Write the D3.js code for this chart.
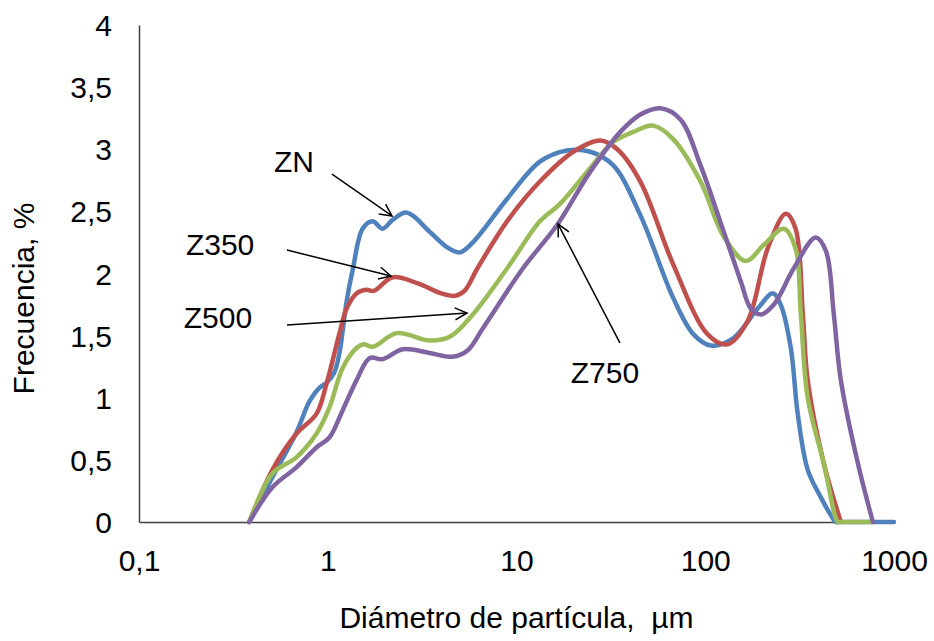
<!DOCTYPE html>
<html>
<head>
  <meta charset="utf-8">
  <title>Distribución de tamaño de partícula</title>
  <style>
    body { margin: 0; padding: 0; background: #fff; }
    svg { display: block; }
    text { font-family: "Liberation Sans", Arial, sans-serif; fill: #000; }
  </style>
</head>
<body>
  <div id="chart"></div>

  <script src="https://d3js.org/d3.v7.min.js"></script>
  <script>
    // values: [diameter µm, frecuencia %]
    const zn = [[0.384,0],[0.509,0.36],[0.682,0.72],[0.80,0.97],[0.903,1.08],[0.984,1.12],[1.08,1.2],
      [1.15,1.35],[1.26,1.78],[1.36,2.04],[1.53,2.36],[1.73,2.42],[1.95,2.36],[2.2,2.43],[2.62,2.49],
      [3.5,2.33],[4.3,2.21],[5.01,2.17],[5.87,2.25],[8.91,2.6],[13.3,2.9],[18.5,2.99],[24.6,2.98],
      [32.6,2.87],[45.3,2.47],[67.8,1.8],[86.7,1.51],[107,1.42],[141,1.48],[190,1.72],[228,1.84],
      [251,1.75],[284,1.4],[309,0.87],[349,0.42],[409,0.2],[465,0.05],[492,0],[510,0],[1000,0]];
    const z350 = [[0.384,0],[0.509,0.42],[0.682,0.71],[0.871,0.87],[0.984,1.11],[1.15,1.51],[1.26,1.72],
      [1.42,1.84],[1.6,1.87],[1.75,1.86],[2.21,1.97],[3.0,1.92],[4.0,1.84],[4.7,1.82],[5.3,1.86],
      [6.2,2.04],[8.91,2.42],[13.3,2.74],[20.0,2.98],[27.8,3.07],[34.2,3.0],[45.3,2.74],[67.8,2.07],
      [103,1.51],[131,1.43],[168,1.62],[214,2.2],[267,2.48],[301,2.36],[329,1.67],[349,1.14],
      [425,0.47],[523,0]];
    const z500 = [[0.384,0],[0.509,0.39],[0.682,0.52],[0.871,0.71],[1.02,0.92],[1.2,1.24],[1.42,1.4],
      [1.55,1.43],[1.73,1.41],[2.32,1.52],[3.47,1.46],[4.43,1.49],[5.87,1.67],[8.91,2.04],[13.3,2.42],
      [17.0,2.56],[23.7,2.82],[32.6,3.06],[41.6,3.14],[53.1,3.19],[67.8,3.08],[94.4,2.74],[125,2.3],
      [164,2.1],[204,2.23],[261,2.36],[301,2.2],[321,1.67],[349,1.0],[425,0.47],[504,0],[520,0],[755,0]];
    const z750 = [[0.384,0],[0.509,0.28],[0.682,0.44],[0.871,0.6],[1.02,0.68],[1.2,0.9],[1.42,1.14],
      [1.67,1.32],[1.95,1.31],[2.5,1.39],[3.47,1.36],[4.6,1.33],[5.5,1.38],[6.64,1.56],[10.8,2.04],
      [16.4,2.39],[24.6,2.82],[35.5,3.14],[45.3,3.28],[57.8,3.33],[73.9,3.24],[94.4,2.87],[125,2.34],
      [154,1.94],[174,1.72],[197,1.67],[231,1.75],[294,2.04],[385,2.29],[436,2.18],[480,1.67],
      [523,1.14],[644,0.47],[773,0]];

    const seriesNames = ['ZN', 'Z350', 'Z500', 'Z750'];
    const seriesData = [zn, z350, z500, z750];
    const colors = ['#4F81BD', '#C0504D', '#9BBB59', '#8064A2'];

    const xTicks = [0.1, 1, 10, 100, 1000];
    const yTicks = [0, 0.5, 1, 1.5, 2, 2.5, 3, 3.5, 4];

    // annotations: label centre/baseline and arrow start -> end, in data units
    const labels = [
      { text: 'ZN',   x: 0.662, y: 2.817, from: [1.053, 2.80],  to: [2.19, 2.463] },
      { text: 'Z350', x: 0.269, y: 2.149, from: [0.608, 2.189], to: [2.163, 1.98] },
      { text: 'Z500', x: 0.262, y: 1.561, from: [0.608, 1.586], to: [5.47, 1.682] },
      { text: 'Z750', x: 29.4,  y: 1.119, from: [35.3, 1.441],  to: [16.6, 2.398] }
    ];

    const width = 934, height = 641;
    const margin = { top: 25, right: 40, bottom: 119, left: 139 };

    const svg = d3.select('#chart').append('svg')
      .attr('width', width).attr('height', height);

    const x = d3.scaleLog().domain([0.1, 1000]).range([margin.left, width - margin.right]);
    const y = d3.scaleLinear().domain([0, 4]).range([height - margin.bottom, margin.top]);

    const fmt = d => String(d).replace('.', ',');

    // axes (no tick marks, labels only)
    svg.append('g')
      .attr('transform', `translate(0,${y(0)})`)
      .call(d3.axisBottom(x).tickValues(xTicks).tickFormat(fmt).tickSize(0).tickPadding(0))
      .call(g => g.select('.domain').attr('stroke', '#404040').attr('stroke-width', 1.5))
      .call(g => g.selectAll('text').attr('font-size', 30).attr('dy', null).attr('y', 49));

    svg.append('g')
      .attr('transform', `translate(${x(0.1)},0)`)
      .call(d3.axisLeft(y).tickValues(yTicks).tickFormat(fmt).tickSize(0).tickPadding(0))
      .call(g => g.select('.domain').attr('stroke', '#404040').attr('stroke-width', 1.5))
      .call(g => g.selectAll('text').attr('font-size', 30).attr('dy', null)
        .attr('x', -27).attr('dominant-baseline', 'central'));

    svg.selectAll('.domain').attr('fill', 'none');

    // series
    const line = d3.line()
      .x(d => x(d[0]))
      .y(d => y(d[1]))
      .curve(d3.curveCatmullRom.alpha(0.5));

    svg.append('g').selectAll('path')
      .data(seriesData)
      .join('path')
      .attr('d', line)
      .attr('fill', 'none')
      .attr('stroke', (d, i) => colors[i])
      .attr('stroke-width', 4.5)
      .attr('stroke-linejoin', 'round')
      .attr('stroke-linecap', 'round');

    // arrowheads
    svg.append('defs').append('marker')
      .attr('id', 'arrow')
      .attr('markerUnits', 'userSpaceOnUse')
      .attr('viewBox', '-1 -7 15 14')
      .attr('refX', 12).attr('refY', 0)
      .attr('markerWidth', 15).attr('markerHeight', 14)
      .attr('orient', 'auto')
      .append('path')
      .attr('d', 'M0,-6 L12,0 L0,6')
      .attr('fill', 'none')
      .attr('stroke', '#000')
      .attr('stroke-width', 1.5);

    const ann = svg.append('g');
    ann.selectAll('line')
      .data(labels)
      .join('line')
      .attr('x1', d => x(d.from[0])).attr('y1', d => y(d.from[1]))
      .attr('x2', d => x(d.to[0])).attr('y2', d => y(d.to[1]))
      .attr('stroke', '#000')
      .attr('stroke-width', 1.5)
      .attr('marker-end', 'url(#arrow)');

    ann.selectAll('text')
      .data(labels)
      .join('text')
      .attr('x', d => x(d.x)).attr('y', d => y(d.y))
      .attr('text-anchor', 'middle')
      .attr('font-size', 30)
      .text(d => d.text);

    // axis titles
    svg.append('text')
      .attr('x', (x(0.1) + x(1000)) / 2)
      .attr('y', 628)
      .attr('text-anchor', 'middle')
      .attr('font-size', 30)
      .attr('xml:space', 'preserve')
      .style('white-space', 'pre')
      .text('Diámetro de partícula,  µm');

    svg.append('text')
      .attr('transform', `translate(23,${(y(0) + y(4)) / 2 + 25}) rotate(-90)`)
      .attr('text-anchor', 'middle')
      .attr('dominant-baseline', 'central')
      .attr('font-size', 30)
      .text('Frecuencia, %');
  </script>
</body>
</html>
